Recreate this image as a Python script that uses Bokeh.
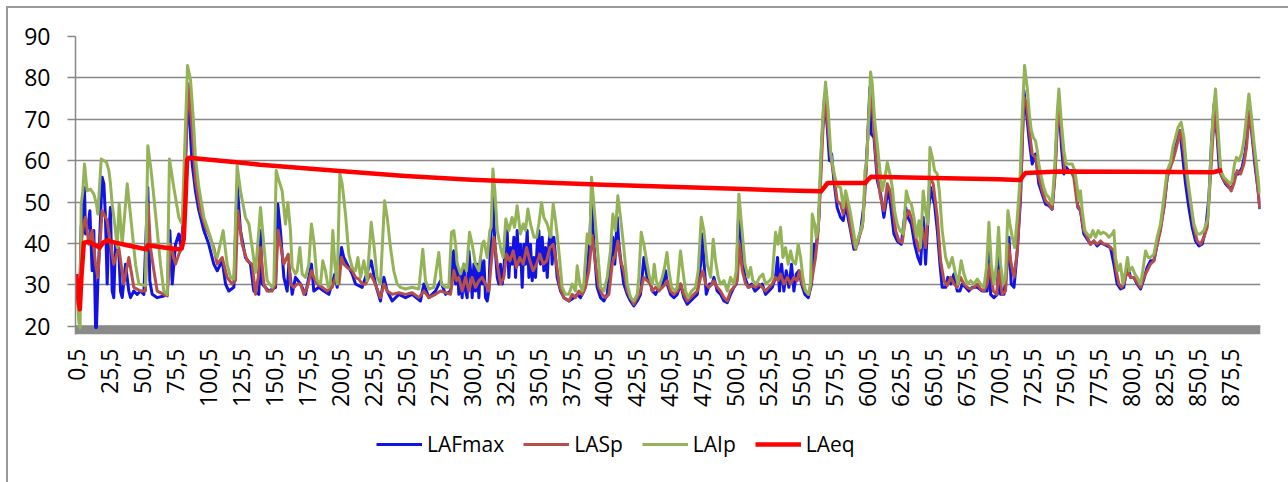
import math
from bokeh.plotting import figure
from bokeh.layouts import column
from bokeh.models import Range1d, FixedTicker, Legend, LegendItem, BoxAnnotation
from bokeh.embed import file_html
from bokeh.resources import INLINE

# ---- sound level readings (time in s, level in dB(A)) ----
LAFMAX = [
    (0.5, 30.0), (2.0, 28.0), (3.5, 32.0), (4.3, 44.0), (5.8, 47.9), (6.8, 53.5), (7.6, 42.3), (9.5, 44.0),
    (10.9, 47.9), (12.6, 33.4), (13.9, 43.1), (15.2, 19.7), (15.9, 19.7), (16.9, 30.2), (20.2, 56.0), (21.5, 54.4),
    (22.7, 46.3), (24.0, 30.2), (25.3, 43.1), (26.5, 48.7), (27.8, 28.5), (29.0, 26.9), (30.3, 39.8), (32.8, 38.2),
    (34.1, 28.5), (35.4, 26.9), (37.9, 35.0), (40.4, 28.5), (41.7, 26.9), (44.2, 28.5), (46.7, 27.7), (49.3, 28.5),
    (51.8, 27.7), (54.8, 53.5), (56.3, 31.0), (58.1, 27.7), (61.9, 26.9), (66.9, 27.3), (69.5, 27.7), (71.5, 43.1),
    (73.3, 30.2), (75.8, 39.8), (78.3, 42.3), (80.1, 39.0), (82.6, 50.0), (84.6, 72.9), (85.4, 75.3), (88.4, 59.2),
    (90.9, 52.7), (93.5, 47.9), (97.3, 43.1), (101.0, 39.8), (104.8, 35.0), (107.4, 33.4), (111.2, 35.8), (113.7, 30.2),
    (116.2, 28.5), (120.0, 29.4), (122.5, 54.4), (125.0, 43.1), (128.8, 36.6), (132.6, 35.0), (135.1, 28.5), (138.9, 27.7),
    (140.2, 43.1), (141.5, 30.2), (146.5, 28.5), (151.6, 29.4), (153.3, 49.5), (155.3, 43.1), (157.9, 31.8), (160.4, 28.5),
    (161.7, 35.0), (164.2, 27.7), (166.7, 31.8), (170.5, 30.2), (174.3, 27.7), (178.8, 35.0), (180.6, 28.5), (184.4, 29.4),
    (188.2, 28.5), (192.0, 27.7), (196.5, 32.6), (198.3, 29.4), (201.6, 39.0), (203.3, 36.6), (207.1, 34.2), (209.7, 32.6),
    (212.2, 30.2), (217.2, 29.4), (224.1, 35.8), (227.3, 30.2), (231.1, 26.1), (233.7, 31.8), (236.2, 28.5), (240.0, 26.1),
    (245.0, 27.7), (250.1, 26.9), (255.1, 27.7), (261.4, 26.1), (264.0, 30.2), (267.8, 26.9), (272.8, 28.5), (276.6, 31.0),
    (280.4, 27.7), (284.2, 28.5), (285.5, 36.6), (286.7, 38.2), (288.0, 30.2), (289.3, 35.0), (290.5, 27.7), (291.8, 33.4),
    (293.0, 26.9), (294.3, 35.0), (295.6, 28.5), (296.8, 26.9), (298.1, 38.2), (299.4, 33.4), (300.6, 26.9), (301.9, 35.0),
    (303.1, 28.5), (304.4, 35.0), (305.7, 26.9), (306.9, 36.6), (308.2, 30.2), (309.5, 35.8), (310.7, 26.9), (312.0, 26.1),
    (313.2, 28.5), (314.5, 39.8), (316.3, 51.1), (317.8, 39.8), (319.6, 31.8), (320.8, 30.2), (322.1, 35.0), (323.4, 30.2),
    (324.6, 33.4), (325.9, 41.5), (327.1, 43.1), (328.4, 31.8), (329.7, 39.0), (330.9, 35.0), (332.2, 41.5), (333.5, 31.8),
    (334.7, 43.1), (336.0, 35.0), (337.2, 39.8), (338.5, 29.4), (339.8, 39.8), (341.0, 35.0), (342.3, 43.1), (343.6, 31.8),
    (344.8, 39.8), (346.1, 31.0), (347.4, 36.6), (348.6, 31.8), (349.9, 39.8), (351.1, 43.1), (352.4, 35.0), (353.7, 41.5),
    (354.9, 33.4), (356.2, 39.0), (357.5, 31.8), (358.7, 39.8), (360.0, 43.1), (361.2, 35.0), (362.5, 41.5), (363.8, 36.6),
    (365.0, 31.8), (367.6, 28.5), (370.1, 26.9), (373.9, 26.1), (377.7, 26.9), (380.2, 27.7), (382.7, 26.9), (385.2, 28.5),
    (387.8, 33.4), (389.8, 41.5), (391.0, 51.1), (392.8, 39.8), (395.3, 29.4), (397.9, 26.9), (400.4, 26.1), (402.9, 27.7),
    (405.4, 35.0), (407.2, 41.5), (408.7, 35.0), (410.5, 46.3), (411.8, 39.8), (413.5, 35.0), (415.5, 30.2), (418.1, 27.7),
    (420.6, 26.1), (423.1, 24.9), (425.7, 26.1), (428.2, 27.7), (430.7, 36.6), (433.2, 31.8), (435.8, 30.2), (437.1, 28.5),
    (439.6, 27.7), (442.1, 29.4), (444.6, 29.4), (447.2, 33.4), (448.4, 30.2), (450.9, 27.7), (453.5, 26.9), (456.0, 27.7),
    (458.5, 30.2), (461.0, 26.9), (463.6, 25.3), (466.1, 26.1), (468.6, 26.9), (471.2, 27.7), (473.7, 35.0), (474.9, 42.3),
    (476.2, 35.8), (478.0, 27.7), (480.5, 30.2), (482.5, 30.2), (483.8, 31.8), (486.3, 28.5), (488.8, 27.7), (491.4, 26.1),
    (493.9, 25.7), (496.4, 27.7), (498.9, 29.4), (500.7, 30.2), (502.7, 48.7), (504.7, 39.0), (507.3, 31.8), (509.8, 29.4),
    (512.3, 30.2), (514.9, 28.5), (517.9, 29.4), (520.4, 30.2), (522.9, 27.7), (525.5, 28.5), (528.0, 29.4), (530.5, 31.8),
    (532.0, 36.6), (533.5, 28.5), (535.1, 35.0), (536.8, 28.5), (538.6, 33.4), (540.6, 29.4), (542.6, 35.0), (544.4, 28.5),
    (546.2, 32.6), (548.2, 33.4), (550.2, 30.2), (552.7, 27.7), (555.3, 26.9), (557.8, 30.2), (559.6, 39.8), (561.3, 39.0),
    (563.4, 46.3), (565.4, 64.0), (567.6, 75.3), (569.7, 68.1), (571.4, 60.0), (573.0, 61.6), (574.7, 55.2), (577.2, 48.7),
    (579.8, 46.3), (581.8, 45.5), (583.6, 49.5), (585.4, 46.3), (587.4, 43.1), (589.9, 38.6), (592.4, 39.8), (595.0, 43.1),
    (597.5, 49.5), (600.0, 63.2), (602.0, 77.7), (603.0, 66.5), (605.1, 65.6), (607.6, 55.2), (610.1, 52.0), (612.6, 46.3),
    (614.4, 50.3), (616.4, 52.7), (618.2, 47.9), (620.2, 42.3), (622.7, 40.6), (625.8, 39.8), (629.1, 48.7), (630.8, 46.3),
    (633.4, 44.7), (635.9, 39.8), (638.4, 36.6), (640.4, 35.0), (642.4, 46.3), (644.2, 35.0), (646.2, 47.1), (648.0, 53.5),
    (649.5, 51.1), (651.0, 49.5), (653.1, 43.1), (655.1, 35.0), (656.8, 29.4), (659.4, 29.4), (661.1, 31.8), (663.2, 30.2),
    (665.7, 32.6), (668.2, 28.5), (670.2, 28.5), (672.0, 30.2), (674.5, 29.4), (677.0, 28.5), (679.6, 29.4), (683.4, 29.4),
    (687.2, 28.5), (690.9, 28.5), (692.2, 39.8), (693.5, 27.7), (696.0, 26.9), (698.5, 27.7), (699.8, 39.8), (701.0, 27.7),
    (703.6, 27.7), (706.1, 35.0), (707.4, 41.5), (709.1, 30.2), (711.2, 29.4), (713.7, 38.2), (716.2, 51.1), (718.7, 77.0),
    (720.7, 71.3), (722.8, 64.8), (725.0, 59.2), (727.5, 61.6), (730.0, 54.4), (732.6, 51.9), (735.1, 49.5), (737.6, 49.1),
    (740.1, 48.3), (742.2, 56.8), (743.9, 68.9), (745.2, 74.5), (747.2, 63.2), (749.0, 56.8), (750.7, 58.4), (752.8, 57.6),
    (755.3, 57.6), (757.8, 55.2), (759.6, 48.7), (761.6, 47.9), (764.1, 42.3), (766.7, 41.0), (769.2, 39.8), (771.7, 40.6),
    (774.2, 39.4), (776.8, 40.2), (779.3, 39.8), (781.8, 39.4), (784.3, 39.0), (786.9, 35.0), (789.4, 30.2), (791.9, 29.0),
    (794.4, 29.4), (797.0, 35.0), (799.5, 31.8), (802.0, 31.8), (804.5, 30.2), (807.1, 29.0), (809.6, 31.4), (812.1, 34.2),
    (814.6, 35.8), (817.2, 35.8), (819.7, 39.8), (822.2, 43.9), (824.8, 48.7), (827.3, 56.0), (829.8, 59.2), (832.3, 61.6),
    (834.9, 64.8), (836.9, 67.3), (838.6, 62.4), (841.2, 54.4), (843.7, 48.7), (846.2, 43.9), (848.8, 40.6), (851.3, 39.4),
    (853.8, 39.8), (856.3, 43.1), (858.9, 51.1), (860.9, 64.8), (862.9, 73.7), (865.2, 65.6), (866.9, 57.6), (869.0, 56.0),
    (871.5, 54.4), (874.0, 53.5), (876.5, 53.5), (879.1, 56.8), (881.6, 56.8), (884.1, 58.4), (886.6, 62.4), (889.2, 70.5),
    (891.2, 67.3), (893.7, 59.2), (896.2, 52.7), (897.5, 48.3),
]

LASP = [
    (0.5, 30.0), (2.5, 26.5), (3.5, 29.0), (4.3, 40.0), (5.8, 43.9), (7.6, 46.3), (10.1, 39.8), (12.6, 43.1),
    (15.2, 35.0), (16.9, 31.8), (20.2, 47.9), (24.0, 45.5), (26.5, 39.8), (29.0, 35.0), (32.8, 39.0), (36.6, 30.2),
    (40.4, 36.6), (44.2, 29.4), (49.3, 28.5), (53.0, 28.5), (55.1, 49.5), (56.8, 39.0), (59.4, 33.4), (61.9, 28.5),
    (66.9, 27.7), (69.5, 27.3), (72.0, 39.8), (75.8, 35.0), (78.3, 37.4), (80.8, 39.0), (85.4, 78.6), (88.4, 67.3),
    (90.9, 55.2), (94.7, 47.9), (98.5, 43.9), (101.0, 42.3), (104.8, 39.0), (107.4, 35.0), (111.2, 36.6), (114.9, 31.8),
    (118.7, 30.2), (121.2, 31.0), (123.0, 47.9), (126.3, 39.8), (130.1, 35.8), (133.9, 35.0), (136.4, 27.7), (138.4, 31.8),
    (140.2, 39.0), (142.7, 30.2), (145.2, 28.5), (149.0, 28.5), (151.6, 30.2), (153.6, 43.1), (155.3, 39.8), (157.9, 35.0),
    (161.2, 37.4), (162.9, 30.2), (165.5, 29.4), (168.0, 30.2), (170.5, 30.2), (173.0, 27.7), (175.6, 29.4), (178.8, 33.4),
    (180.6, 31.8), (183.1, 30.2), (186.9, 29.4), (190.7, 28.5), (194.5, 29.4), (197.0, 31.8), (199.6, 30.2), (201.6, 36.6),
    (203.3, 35.0), (205.9, 34.2), (209.7, 33.4), (212.2, 31.8), (214.7, 31.4), (217.2, 30.2), (219.8, 30.2), (223.5, 32.6),
    (226.1, 31.0), (228.6, 29.0), (231.1, 26.9), (233.7, 30.2), (236.2, 28.5), (240.0, 27.7), (245.0, 28.1), (250.1, 27.7),
    (255.1, 28.1), (260.2, 26.9), (264.0, 28.5), (267.8, 26.9), (272.8, 27.7), (276.6, 28.5), (280.4, 28.1), (284.2, 27.7),
    (286.7, 33.4), (288.7, 31.0), (290.5, 31.8), (293.0, 28.5), (295.6, 31.8), (298.1, 28.5), (300.6, 31.8), (303.1, 29.4),
    (305.7, 31.0), (308.2, 31.8), (310.7, 30.2), (313.2, 28.5), (315.0, 35.0), (317.0, 41.5), (319.6, 35.0), (322.1, 30.2),
    (324.6, 31.8), (326.6, 37.4), (329.2, 35.8), (331.7, 38.2), (334.2, 34.2), (336.7, 36.6), (339.3, 35.0), (341.8, 39.0),
    (344.3, 35.8), (346.8, 33.4), (349.4, 35.0), (351.9, 37.4), (354.4, 35.0), (357.0, 35.8), (359.5, 39.0), (362.0, 39.8),
    (364.5, 35.0), (367.1, 29.4), (370.1, 26.9), (373.9, 26.1), (376.4, 27.7), (378.9, 26.9), (381.5, 28.5), (384.0, 27.7),
    (386.5, 29.4), (389.0, 33.4), (391.6, 41.9), (394.1, 35.0), (396.6, 29.4), (399.1, 27.7), (401.7, 26.9), (404.2, 27.7),
    (406.7, 35.0), (409.2, 37.4), (411.0, 40.6), (413.0, 35.8), (415.5, 33.4), (418.1, 28.5), (420.6, 26.9), (423.1, 25.3),
    (425.7, 26.9), (428.2, 28.5), (430.7, 31.8), (433.2, 31.0), (435.8, 30.2), (437.1, 28.5), (439.6, 29.4), (442.1, 28.5),
    (444.6, 29.4), (447.2, 30.2), (448.4, 31.0), (450.9, 28.5), (453.5, 27.7), (456.0, 28.5), (458.5, 30.2), (461.0, 27.7),
    (463.6, 26.1), (466.1, 26.9), (468.6, 27.7), (471.2, 28.5), (473.7, 31.8), (475.4, 33.4), (477.5, 30.2), (480.0, 29.4),
    (482.5, 30.2), (483.8, 31.0), (486.3, 29.4), (488.8, 28.5), (491.4, 26.9), (493.9, 26.1), (496.4, 28.5), (498.9, 29.4),
    (501.5, 31.0), (503.2, 39.8), (505.3, 33.4), (507.8, 30.2), (510.3, 29.4), (512.8, 29.8), (515.4, 29.4), (517.9, 30.2),
    (520.4, 29.4), (522.9, 28.5), (525.5, 29.4), (528.0, 30.2), (530.5, 31.8), (532.5, 31.0), (534.3, 32.6), (536.8, 30.2),
    (539.4, 31.8), (541.9, 30.2), (544.4, 31.8), (546.9, 31.0), (548.7, 33.4), (550.7, 30.2), (553.2, 28.5), (555.8, 27.7),
    (558.3, 31.8), (560.8, 36.6), (562.8, 43.1), (564.6, 54.4), (566.4, 67.3), (568.4, 75.3), (570.4, 67.3), (572.4, 60.8),
    (575.0, 56.0), (577.2, 50.3), (579.8, 49.5), (581.8, 47.1), (583.6, 51.1), (585.4, 47.9), (587.4, 43.9), (589.9, 39.8),
    (591.2, 38.6), (593.7, 41.5), (596.2, 43.9), (598.0, 51.1), (600.0, 63.2), (602.0, 75.3), (603.8, 73.7), (605.6, 64.8),
    (607.6, 56.8), (610.1, 51.1), (612.6, 47.9), (615.2, 54.4), (617.2, 52.7), (619.0, 49.5), (621.5, 43.1), (624.0, 40.6),
    (626.5, 40.2), (629.1, 46.3), (631.6, 47.9), (634.1, 45.5), (636.6, 41.5), (639.2, 38.2), (641.7, 43.9), (644.2, 39.0),
    (647.5, 56.0), (650.0, 54.4), (653.1, 46.3), (655.6, 35.8), (658.1, 31.0), (660.6, 29.8), (663.2, 31.8), (665.7, 30.2),
    (668.2, 29.4), (670.7, 31.8), (673.3, 30.2), (675.8, 29.4), (678.3, 29.0), (680.8, 29.4), (683.4, 30.2), (685.9, 29.0),
    (688.4, 28.5), (690.9, 30.2), (693.0, 35.0), (695.5, 28.5), (698.0, 27.7), (699.8, 33.4), (702.3, 27.7), (704.8, 28.5),
    (706.9, 39.8), (709.1, 35.0), (711.2, 31.8), (713.7, 38.2), (716.2, 52.7), (718.7, 75.3), (720.7, 73.7), (722.8, 67.3),
    (725.0, 61.6), (727.5, 60.8), (730.0, 56.0), (732.6, 52.7), (735.1, 50.3), (737.6, 49.5), (740.1, 48.3), (742.2, 56.0),
    (743.9, 67.3), (745.7, 72.9), (747.7, 64.8), (749.7, 57.6), (751.5, 57.6), (754.0, 57.6), (756.5, 56.0), (759.1, 49.5),
    (761.6, 47.9), (764.1, 43.1), (766.7, 41.5), (769.2, 39.8), (771.7, 40.6), (774.2, 39.8), (776.8, 40.6), (779.3, 39.8),
    (781.8, 39.8), (784.3, 39.0), (786.9, 38.2), (788.6, 33.4), (790.7, 30.2), (792.7, 29.4), (794.4, 30.2), (797.0, 33.4),
    (799.5, 31.8), (802.0, 31.8), (804.5, 30.6), (807.1, 29.4), (809.6, 31.8), (812.1, 33.4), (814.6, 35.0), (817.2, 35.8),
    (819.7, 39.8), (822.2, 43.1), (824.8, 48.7), (827.3, 56.0), (829.8, 58.4), (832.3, 60.8), (834.9, 64.0), (837.4, 67.3),
    (839.9, 62.4), (842.4, 55.2), (845.0, 49.5), (847.5, 43.9), (850.0, 40.6), (852.5, 39.8), (855.1, 41.5), (857.6, 43.9),
    (860.1, 56.0), (861.9, 65.6), (863.9, 72.1), (865.9, 64.0), (867.9, 56.8), (870.2, 55.2), (872.7, 54.4), (875.8, 52.7),
    (877.8, 54.4), (880.3, 57.6), (882.9, 56.8), (885.4, 59.2), (887.4, 63.2), (889.7, 72.1), (891.7, 66.5), (894.2, 59.2),
    (896.2, 52.7), (897.5, 48.4),
]

LAIP = [
    (0.5, 31.0), (1.5, 27.0), (2.5, 21.0), (3.5, 19.6), (4.3, 49.5), (5.5, 52.5), (6.8, 59.2), (8.8, 52.7),
    (11.4, 53.1), (13.9, 51.9), (15.9, 49.5), (16.9, 47.1), (19.5, 60.4), (23.5, 59.6), (25.3, 57.6), (26.5, 54.4),
    (27.8, 49.5), (30.3, 43.1), (31.6, 39.0), (33.1, 49.5), (35.4, 39.8), (39.2, 54.4), (42.9, 43.1), (45.5, 35.0),
    (48.0, 30.2), (53.0, 29.8), (54.8, 63.6), (57.3, 57.6), (59.4, 51.1), (61.9, 43.1), (64.4, 35.0), (66.9, 28.5),
    (69.5, 27.7), (71.2, 60.4), (74.5, 53.5), (78.3, 46.3), (80.8, 44.7), (84.9, 83.0), (87.2, 79.4), (89.2, 70.5),
    (90.9, 60.8), (93.5, 53.5), (97.3, 46.3), (99.8, 43.9), (102.3, 41.5), (104.8, 38.2), (107.4, 36.6), (111.9, 43.1),
    (114.9, 35.0), (117.5, 31.8), (120.0, 31.4), (122.5, 58.8), (125.0, 52.7), (128.8, 46.3), (131.4, 44.7), (133.9, 39.0),
    (136.4, 33.0), (138.9, 43.1), (140.2, 48.7), (142.7, 39.8), (145.2, 31.0), (149.0, 29.4), (150.3, 30.2), (152.1, 57.6),
    (154.1, 55.2), (156.6, 52.7), (159.1, 44.7), (160.9, 49.9), (162.9, 43.1), (164.2, 34.2), (166.7, 32.6), (168.0, 33.4),
    (170.0, 39.0), (171.8, 32.6), (174.3, 31.8), (176.8, 35.0), (178.8, 44.7), (180.6, 40.6), (183.1, 31.0), (185.7, 30.2),
    (187.4, 35.8), (189.4, 33.4), (191.5, 29.4), (193.2, 30.2), (195.0, 43.1), (196.5, 35.0), (198.3, 30.2), (200.3, 56.8),
    (202.1, 54.4), (204.6, 47.1), (207.1, 37.4), (209.7, 34.2), (212.2, 33.4), (214.0, 36.6), (216.0, 31.8), (218.5, 35.8),
    (221.0, 31.0), (224.1, 45.1), (226.1, 39.8), (228.6, 31.8), (231.1, 30.2), (234.2, 50.3), (236.2, 46.3), (238.7, 39.0),
    (241.2, 33.4), (243.8, 30.2), (246.3, 29.4), (250.1, 29.0), (255.1, 29.4), (260.2, 29.0), (263.2, 38.6), (265.2, 31.0),
    (267.8, 29.0), (271.5, 29.4), (275.3, 37.8), (277.3, 30.2), (280.4, 29.4), (282.9, 29.4), (284.9, 42.7), (286.7, 43.1),
    (288.0, 39.8), (289.3, 35.0), (291.8, 32.6), (294.3, 35.0), (296.3, 33.4), (298.6, 42.7), (300.6, 39.8), (303.1, 35.0),
    (305.7, 33.4), (308.2, 39.8), (309.5, 40.6), (312.0, 36.6), (314.0, 43.1), (315.0, 43.9), (316.3, 58.0), (317.8, 52.7),
    (319.6, 43.1), (322.1, 39.0), (324.1, 36.6), (326.1, 45.9), (328.4, 43.1), (330.9, 46.3), (332.7, 43.9), (334.7, 49.1),
    (337.2, 42.3), (339.3, 44.7), (341.0, 43.1), (342.8, 48.3), (344.8, 44.7), (347.4, 41.5), (349.4, 41.5), (351.1, 44.7),
    (353.2, 49.9), (354.9, 46.3), (357.5, 44.7), (360.0, 41.5), (362.0, 49.5), (363.8, 45.5), (366.3, 38.2), (368.8, 29.4),
    (371.3, 27.7), (373.9, 27.7), (376.4, 30.2), (378.9, 28.5), (380.2, 34.6), (382.2, 30.2), (384.0, 28.5), (385.2, 30.2),
    (387.8, 42.3), (389.8, 39.8), (391.0, 56.0), (392.8, 49.5), (395.3, 39.8), (397.9, 29.4), (400.4, 28.5), (402.9, 31.8),
    (405.4, 38.2), (407.2, 47.1), (409.2, 43.1), (411.0, 51.5), (413.0, 46.3), (415.5, 39.0), (418.1, 30.2), (420.6, 26.9),
    (423.1, 26.1), (425.7, 27.7), (426.9, 31.8), (428.7, 42.7), (430.7, 39.8), (433.2, 35.0), (435.0, 31.8), (437.1, 30.2),
    (438.6, 35.0), (440.1, 31.0), (442.1, 29.4), (444.6, 31.8), (446.4, 34.2), (448.2, 37.8), (449.7, 33.4), (451.7, 29.4),
    (454.2, 28.5), (456.0, 29.4), (458.5, 38.2), (460.3, 33.4), (462.3, 28.5), (464.3, 26.9), (466.9, 28.5), (469.9, 29.4),
    (471.9, 33.4), (474.2, 46.3), (476.2, 43.1), (478.7, 35.0), (481.3, 31.8), (483.3, 41.0), (485.0, 35.8), (487.1, 31.8),
    (488.8, 30.2), (491.4, 31.0), (493.9, 28.5), (496.4, 31.8), (498.9, 30.2), (500.7, 33.4), (502.7, 51.9), (504.7, 44.7),
    (507.3, 35.0), (509.8, 31.8), (511.6, 34.2), (513.3, 31.0), (515.9, 30.2), (518.4, 31.8), (520.9, 32.6), (522.9, 30.2),
    (526.0, 31.0), (528.0, 31.8), (530.5, 42.7), (532.3, 39.8), (534.3, 43.9), (536.1, 36.6), (538.1, 39.0), (540.1, 35.0),
    (541.9, 38.2), (543.6, 35.8), (545.7, 35.0), (547.7, 39.8), (549.5, 36.6), (551.2, 31.8), (553.2, 28.5), (555.3, 27.7),
    (557.0, 30.2), (558.3, 47.1), (560.1, 44.7), (561.3, 41.5), (562.8, 43.9), (564.6, 59.2), (566.4, 71.3), (568.4, 79.0),
    (570.4, 72.1), (572.4, 61.6), (575.0, 56.8), (577.2, 53.9), (579.8, 53.5), (581.8, 48.7), (583.6, 52.7), (585.4, 50.3),
    (587.4, 47.1), (589.9, 42.3), (591.2, 39.0), (592.4, 40.6), (595.0, 43.1), (597.0, 45.5), (598.2, 57.6), (599.5, 59.2),
    (601.3, 71.3), (602.5, 81.4), (603.8, 78.6), (605.6, 69.7), (607.6, 64.0), (609.6, 57.6), (611.4, 52.7), (613.1, 55.2),
    (615.2, 59.6), (617.2, 56.8), (619.0, 53.5), (620.7, 47.9), (622.7, 44.7), (624.8, 43.1), (627.3, 42.3), (629.6, 52.7),
    (631.6, 50.3), (633.4, 49.5), (635.4, 46.3), (637.4, 41.5), (639.2, 45.5), (640.4, 39.0), (642.4, 52.7), (644.2, 47.9),
    (646.0, 44.7), (647.5, 63.2), (649.3, 60.8), (651.0, 57.6), (653.0, 56.8), (654.6, 52.7), (656.8, 43.1), (659.4, 36.6),
    (661.9, 34.2), (664.4, 36.6), (666.4, 33.4), (668.7, 30.2), (671.2, 35.8), (673.3, 32.6), (675.8, 30.2), (678.3, 31.0),
    (680.8, 30.2), (683.4, 31.4), (685.9, 30.2), (688.4, 29.4), (690.4, 34.2), (692.2, 45.1), (694.0, 35.0), (696.0, 30.2),
    (698.0, 35.0), (699.5, 43.9), (701.0, 35.0), (703.1, 30.2), (704.8, 31.8), (706.6, 47.9), (708.1, 44.7), (709.9, 41.5),
    (711.7, 39.0), (713.7, 46.3), (715.7, 55.2), (717.5, 71.3), (719.2, 83.0), (721.2, 77.7), (722.8, 71.3), (724.3, 67.3),
    (726.0, 65.5), (727.5, 64.8), (728.8, 62.4), (730.0, 59.2), (732.0, 56.0), (733.8, 53.5), (735.6, 51.9), (737.6, 51.1),
    (740.1, 49.5), (742.2, 59.2), (743.9, 71.3), (745.2, 77.3), (747.2, 68.9), (749.0, 62.4), (750.7, 59.2), (752.8, 59.2),
    (755.3, 59.2), (757.3, 57.6), (759.1, 53.5), (760.3, 50.3), (761.6, 52.7), (762.9, 47.9), (764.9, 43.1), (766.7, 42.3),
    (769.2, 41.5), (771.0, 43.1), (773.0, 41.5), (775.0, 43.1), (776.8, 42.3), (778.8, 42.7), (781.1, 42.3), (783.1, 41.5),
    (785.6, 42.3), (786.9, 43.1), (788.1, 36.6), (790.1, 33.4), (791.9, 35.0), (793.7, 30.2), (795.7, 33.4), (797.2, 36.6),
    (798.7, 33.4), (800.8, 34.2), (802.8, 32.6), (804.5, 31.8), (807.1, 30.2), (808.8, 33.4), (810.9, 38.2), (812.9, 36.6),
    (814.6, 36.6), (817.2, 37.4), (819.7, 41.5), (822.2, 44.7), (824.8, 51.1), (827.3, 57.6), (829.8, 59.6), (831.6, 63.2),
    (833.6, 65.6), (835.6, 68.1), (837.9, 69.3), (839.9, 65.6), (842.4, 56.8), (845.0, 50.3), (847.5, 44.7), (850.0, 42.3),
    (852.5, 42.3), (855.1, 43.1), (856.8, 44.7), (858.3, 46.3), (860.1, 59.2), (861.9, 70.5), (863.9, 77.3), (865.9, 67.3),
    (867.9, 57.6), (870.2, 56.0), (872.7, 55.2), (875.3, 54.4), (876.5, 55.2), (878.3, 59.2), (879.8, 60.8), (881.6, 60.0),
    (883.6, 61.6), (885.4, 64.8), (887.1, 69.7), (889.2, 76.1), (891.2, 70.5), (893.2, 64.0), (895.5, 57.6), (897.5, 52.0),
]

LAEQ = [
    (0.5, 32.6), (1.5, 29.0), (2.5, 25.5), (3.3, 24.1), (4.5, 32.0), (6.3, 40.2), (10.0, 40.4), (13.0, 39.9),
    (16.0, 39.4), (18.4, 39.0), (21.0, 40.2), (24.0, 40.7), (30.0, 40.2), (40.0, 39.5), (51.8, 38.7), (53.8, 38.6),
    (54.8, 39.6), (60.0, 39.3), (70.0, 38.9), (78.0, 38.6), (80.5, 38.8), (82.0, 41.0), (83.3, 50.0), (84.6, 60.3),
    (86.0, 60.7), (90.0, 60.6), (100.0, 60.3), (120.0, 59.7), (140.0, 59.0), (200.0, 57.5), (250.0, 56.3), (300.0, 55.4),
    (350.0, 54.8), (400.0, 54.2), (450.0, 53.7), (500.0, 53.2), (540.0, 52.8), (565.0, 52.6), (567.0, 53.4), (570.0, 54.6),
    (598.5, 54.6), (600.5, 55.4), (603.0, 56.1), (650.0, 55.8), (700.0, 55.5), (716.0, 55.3), (718.0, 56.3), (720.0, 57.0),
    (745.0, 57.4), (800.0, 57.3), (862.0, 57.2), (866.0, 57.5), (869.0, 57.7),
]

TICK_LABELS = ["0,5", "25,5", "50,5", "75,5", "100,5", "125,5", "150,5", "175,5", "200,5",
               "225,5", "250,5", "275,5", "300,5", "325,5", "350,5", "375,5", "400,5", "425,5",
               "450,5", "475,5", "500,5", "525,5", "550,5", "575,5", "600,5", "625,5", "650,5",
               "675,5", "700,5", "725,5", "750,5", "775,5", "800,5", "825,5", "850,5", "875,5"]
Y_TICKS = [20, 30, 40, 50, 60, 70, 80, 90]

SERIES = [
    ("LAFmax", LAFMAX, "#1212e2", 3),
    ("LASp", LASP, "#b4504b", 3),
    ("LAIp", LAIP, "#93b356", 3),
    ("LAeq", LAEQ, "#ff0000", 4.5),
]

FONT = "Open Sans"
GRID = "#878787"

# ---- main chart ----
p = figure(frame_width=1185, frame_height=298, output_backend="svg", toolbar_location=None,
           x_range=Range1d(0, 898), y_range=Range1d(18, 90),
           min_border_left=67, min_border_right=28, min_border_top=28, min_border_bottom=0)
p.outline_line_color = None
p.background_fill_color = "white"
p.border_fill_color = "white"

# floor band under the series
p.add_layout(BoxAnnotation(top=20.25, fill_color="#8a8a8a", fill_alpha=1,
                           line_color=None, level="underlay"))

for name, pts, color, lw in SERIES:
    xs = [t for t, _ in pts]
    ys = [v for _, v in pts]
    p.line(xs, ys, line_color=color, line_width=lw, line_join="round")

# y axis
p.yaxis.ticker = FixedTicker(ticks=Y_TICKS)
p.yaxis.minor_tick_line_color = None
p.yaxis.major_tick_in = 0
p.yaxis.major_tick_out = 8
p.yaxis.major_tick_line_color = GRID
p.yaxis.major_tick_line_width = 1.5
p.yaxis.axis_line_color = GRID
p.yaxis.axis_line_width = 1.5
p.yaxis.major_label_standoff = 17
p.yaxis.major_label_text_font = FONT
p.yaxis.major_label_text_font_size = "23px"
p.yaxis.major_label_text_color = "black"

p.ygrid.ticker = FixedTicker(ticks=Y_TICKS)
p.ygrid.grid_line_color = GRID
p.ygrid.grid_line_width = 1.5
p.xgrid.visible = False

# x axis with category-style labels
tick_pos = [float(s.replace(",", ".")) for s in TICK_LABELS]
p.xaxis.ticker = FixedTicker(ticks=tick_pos)
p.xaxis.major_label_overrides = {pos: lab for pos, lab in zip(tick_pos, TICK_LABELS)}
p.xaxis.major_label_orientation = math.pi / 2
p.xaxis.axis_line_color = None
p.xaxis.major_tick_line_color = None
p.xaxis.minor_tick_line_color = None
p.xaxis.major_label_standoff = 8
p.xaxis.major_label_text_font = FONT
p.xaxis.major_label_text_font_size = "23px"
p.xaxis.major_label_text_color = "black"

# ---- legend strip under the chart ----
# the series are repeated here, far outside this strip's view, so the legend has glyphs to show
leg = figure(frame_width=1280, frame_height=82, output_backend="svg", toolbar_location=None,
             x_range=Range1d(-2000, -1000), y_range=Range1d(-2000, -1000), min_border=0)
leg.axis.visible = False
leg.grid.visible = False
leg.outline_line_color = None
leg.background_fill_color = "white"
leg.border_fill_color = "white"

items = []
for name, pts, color, lw in SERIES:
    r = leg.line([t for t, _ in pts], [v for _, v in pts], line_color=color, line_width=lw)
    items.append(LegendItem(label=name, renderers=[r]))

legend = Legend(items=items, orientation="horizontal", location=(368, 34), margin=0, padding=0,
                glyph_width=46, glyph_height=20, label_standoff=5, spacing=19,
                border_line_color=None, background_fill_alpha=0,
                label_text_font=FONT, label_text_font_size="21px", label_text_color="black")
leg.add_layout(legend)

page = column(p, leg, spacing=0, margin=(6, 0, 0, 6),
              styles={"border-left": "2px solid #9a9a9a", "border-top": "2px solid #9a9a9a"})

open("out.html", "w").write(file_html(page, INLINE))
